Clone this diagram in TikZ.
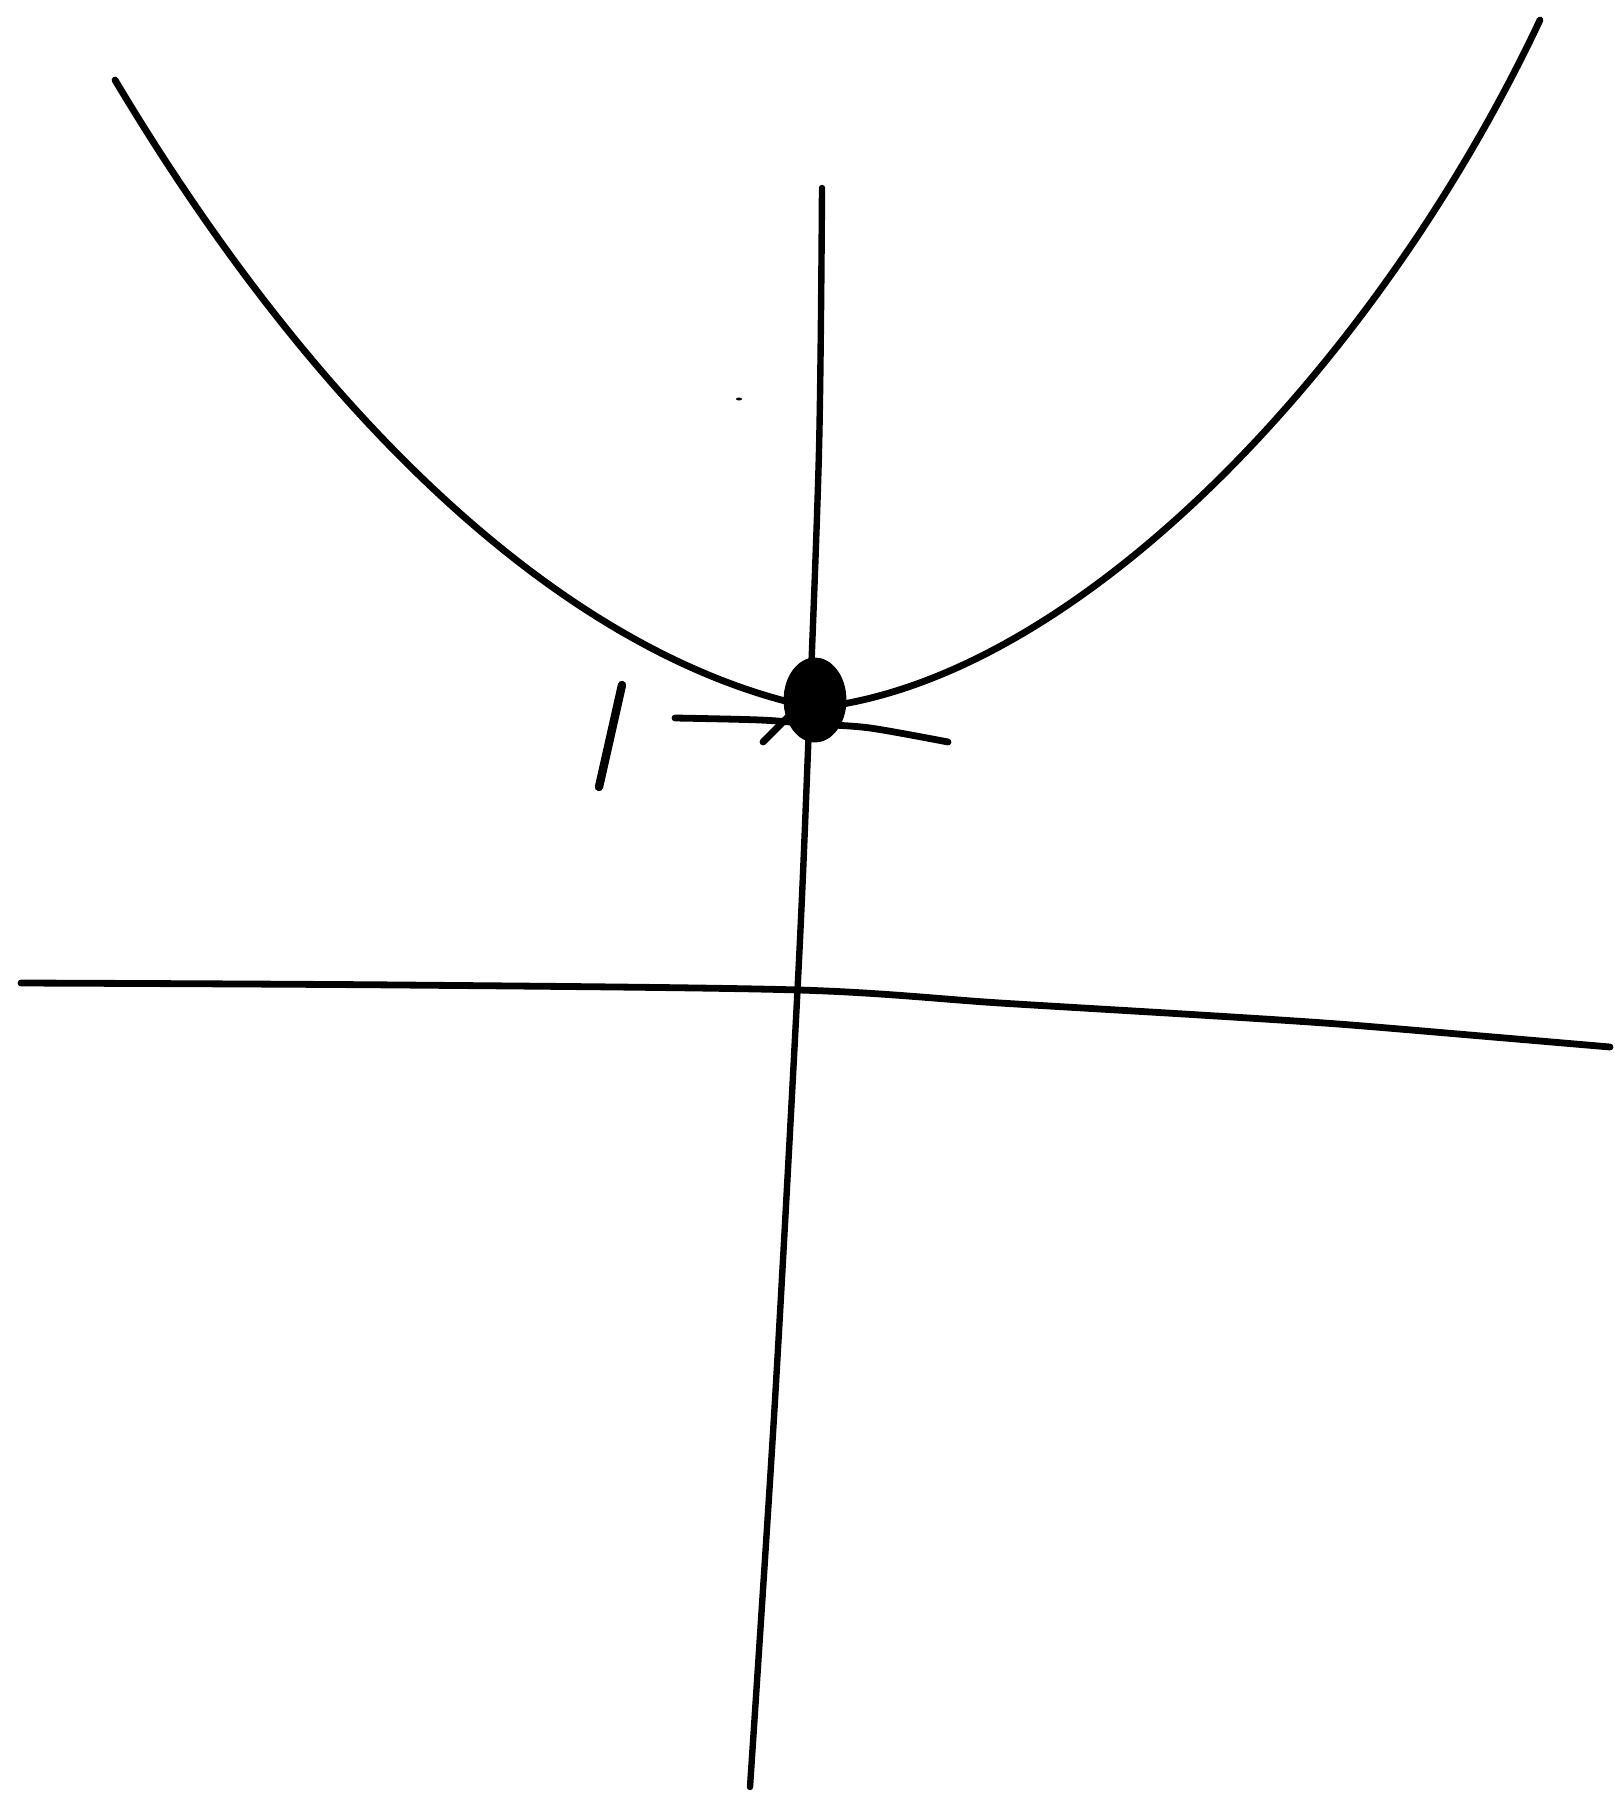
\documentclass[tikz,border=0pt]{standalone}
\usetikzlibrary{shapes.geometric}
\begin{document}
\begin{tikzpicture}[x=0.5pt,y=-0.5pt,
  sketch/.style={draw=black,line width=3.4pt,line cap=round,line join=round},
  thin sketch/.style={draw=black,line width=3.2pt,line cap=round,line join=round}]
\useasboundingbox (0,0) rectangle (1614,1797);
% horizontal axis
\draw[sketch] plot[smooth,tension=0.5] coordinates {(21,983) (400,985) (799,990) (1000,1003) (1200,1015) (1338,1024) (1493,1037) (1610,1047)};
% vertical axis
\draw[thin sketch] plot[smooth,tension=0.5] coordinates {(822,188) (819,450) (808,750) (798,980) (775,1400) (750,1787)};
% parabola
\coordinate (pl) at (115,80);
\coordinate (pv) at (815,708);
\coordinate (pr) at (1540,20);
\draw[sketch] (pl) .. controls (330,440) and (580,660) .. (pv)
                    .. controls (1080,680) and (1380,360) .. (pr);
% tick mark at y=1
\draw[sketch] plot[smooth,tension=0.5] coordinates {(675,718) (760,720) (815,724) (870,728) (948,742)};
\draw[sketch] (763,742) -- (790,715);
% vertex dot
\node[draw=black,fill=black,ellipse,minimum width=31pt,minimum height=42pt,inner sep=0pt] (vertex) at (815,700) {};
% label 1
\draw[sketch,line width=4.2pt] (622,685) -- (599,787);
% speck
\fill[black] (739,399) ellipse (3 and 1.5);
\end{tikzpicture}
\end{document}
